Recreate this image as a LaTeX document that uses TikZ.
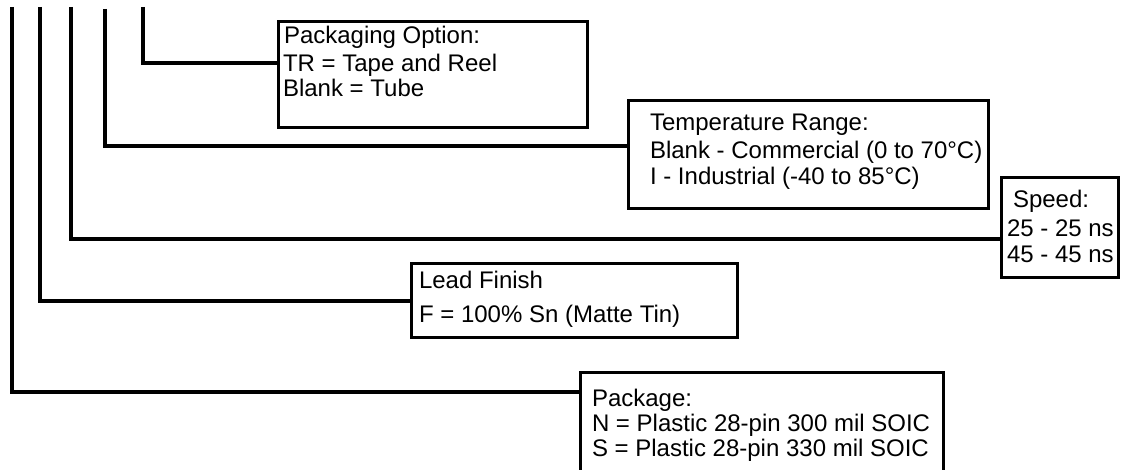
\documentclass[tikz,border=0pt]{standalone}
\usepackage{fontspec}
\setmainfont{Liberation Sans}
\usetikzlibrary{calc}
\begin{document}
\begin{tikzpicture}[x=1pt,y=-1pt,
  every node/.style={inner sep=0pt, outer sep=0pt},
  optbox/.style={draw, line width=3pt, rectangle, anchor=north west},
  conn/.style={line width=3.2pt},
  lbl/.style={anchor=base west, font=\fontsize{24}{28}\selectfont}]
\useasboundingbox (0,0) rectangle (1124,470);
\clip (0,0) rectangle (1124,470);
% boxes
\node[optbox, minimum width=309pt, minimum height=106pt] (pack) at (278,22) {};
\node[optbox, minimum width=360pt, minimum height=108pt] (temp) at (628,101) {};
\node[optbox, minimum width=117pt, minimum height=100pt] (speed) at (1001,178) {};
\node[optbox, minimum width=326pt, minimum height=73pt] (lead) at (411,264) {};
\node[optbox, minimum width=363pt, minimum height=120pt] (pkg) at (580,372) {};
% texts
\node[lbl] (p1) at (284,44) {Packaging Option:};
\node[lbl] (p2) at (283,72) {TR = Tape and Reel};
\node[lbl] (p3) at (283,97) {Blank = Tube};
\node[lbl] (t1) at (650,131) {Temperature Range:};
\node[lbl] (t2) at (650,159) {Blank - Commercial (0 to 70°C)};
\node[lbl] (t3) at (650,185) {I - Industrial (-40 to 85°C)};
\node[lbl] (s1) at (1013,208) {Speed:};
\node[lbl] (s2) at (1007,237) {25 - 25 ns};
\node[lbl] (s3) at (1007,262) {45 - 45 ns};
\node[lbl] (l1) at (419,289) {Lead Finish};
\node[lbl] (l2) at (419,322) {F = 100\% Sn (Matte Tin)};
\node[lbl] (k1) at (592,406) {Package:};
\node[lbl] (k2) at (592,431) {N = Plastic 28-pin 300 mil SOIC};
\node[lbl] (k3) at (592,456) {S = Plastic 28-pin 330 mil SOIC};
% connector tops
\coordinate (c1) at (143,7);
\coordinate (c2) at (105,9);
\coordinate (c3) at (71,7);
\coordinate (c4) at (40,7);
\coordinate (c5) at (12,7);
% connectors
\draw[conn] (c1) |- ([yshift=-41pt]pack.north west);
\draw[conn] (c2) |- ([yshift=-45pt]temp.north west);
\draw[conn] (c3) |- ([yshift=-61pt]speed.north west);
\draw[conn] (c4) |- ([yshift=-37pt]lead.north west);
\draw[conn] (c5) |- ([yshift=-20pt]pkg.north west);
\end{tikzpicture}
\end{document}
